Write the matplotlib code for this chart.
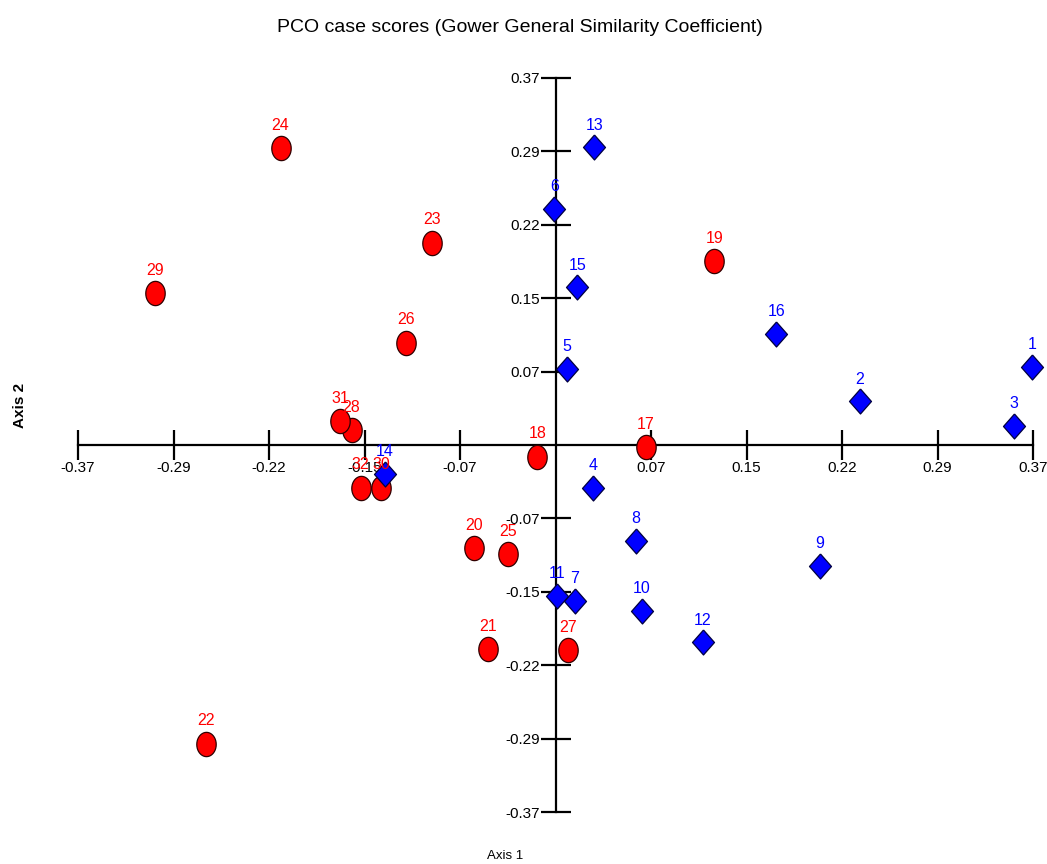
import numpy as np
import matplotlib
matplotlib.use("Agg")
import matplotlib.pyplot as plt

# PCO scores
blue_ids = [1, 2, 3, 4, 5, 6, 7, 8, 9, 10, 11, 12, 13, 14, 15, 16]
blue_x = [0.369, 0.236, 0.355, 0.029, 0.009, -0.001, 0.015, 0.062,
          0.205, 0.067, 0.001, 0.114, 0.030, -0.132, 0.017, 0.171]
blue_y = [0.079, 0.044, 0.019, -0.043, 0.077, 0.238, -0.157, -0.097,
          -0.122, -0.167, -0.152, -0.199, 0.300, -0.029, 0.159, 0.112]

red_ids = [17, 18, 19, 20, 21, 22, 23, 24, 25, 26, 27, 28, 29, 30, 31, 32]
red_x = [0.070, -0.014, 0.123, -0.063, -0.052, -0.271, -0.096, -0.213,
         -0.037, -0.116, 0.010, -0.158, -0.310, -0.135, -0.167, -0.151]
red_y = [-0.002, -0.012, 0.185, -0.104, -0.206, -0.301, 0.204, 0.299,
         -0.110, 0.103, -0.207, 0.015, 0.153, -0.043, 0.024, -0.043]

tick_vals = [-0.37, -0.296, -0.222, -0.148, -0.074, 0.074, 0.148, 0.222, 0.296, 0.37]
tick_labels = ["-0.37", "-0.29", "-0.22", "-0.15", "-0.07", "0.07", "0.15", "0.22", "0.29", "0.37"]

plt.rcParams['font.family'] = ['Liberation Sans', 'DejaVu Sans']

# slightly tall markers, like the original
t = np.linspace(0, 2 * np.pi, 41)
ellipse = list(zip(0.8 * np.cos(t), np.sin(t)))
diamond = [(0, 1), (0.88, 0), (0, -1), (-0.88, 0), (0, 1)]

W, H = 1047, 864
fig = plt.figure(figsize=(W / 100, H / 100), dpi=100)
ax = fig.add_axes([78 / W, (H - 812) / H, 955 / W, 734 / H])
ax.set_xlim(-0.37, 0.37)
ax.set_ylim(-0.37, 0.37)

# axes crossing at the origin
for s in ['top', 'right']:
    ax.spines[s].set_visible(False)
for s in ['left', 'bottom']:
    ax.spines[s].set_position(('data', 0))
    ax.spines[s].set_linewidth(1.6)
    ax.spines[s].set_zorder(1)

ax.set_xticks(tick_vals)
ax.set_xticklabels(tick_labels)
ax.set_yticks(tick_vals)
ax.set_yticklabels(tick_labels)
ax.tick_params(direction='inout', length=21, width=1.6, labelsize=11, pad=1)
ax.patch.set_visible(False)

ax.plot(red_x, red_y, marker=ellipse, ms=17.5, mfc='#ff0000', mec='#300000', mew=0.9,
        linestyle='none', zorder=3, clip_on=False)
ax.plot(blue_x, blue_y, marker=diamond, ms=18, mfc='#0000ff', mec='#000040', mew=0.9,
        linestyle='none', zorder=3, clip_on=False)

for i, x, y in zip(red_ids, red_x, red_y):
    ax.annotate(str(i), (x, y), xytext=(0, 16.5), textcoords='offset points',
                ha='center', va='center', color='#ff0000', fontsize=11.5, zorder=4)
for i, x, y in zip(blue_ids, blue_x, blue_y):
    ax.annotate(str(i), (x, y), xytext=(0, 16), textcoords='offset points',
                ha='center', va='center', color='#0000ff', fontsize=11.5, zorder=4)

fig.text(520 / W, 1 - 28 / H, "PCO case scores (Gower General Similarity Coefficient)",
         ha='center', va='center', fontsize=14)
fig.text(505 / W, 1 - 856 / H, "Axis 1", ha='center', va='center', fontsize=9.5)
fig.text(20 / W, 1 - 405 / H, "Axis 2", ha='center', va='center', fontsize=11,
         rotation=90, fontweight='bold')

fig.savefig("out.png", dpi=100)
